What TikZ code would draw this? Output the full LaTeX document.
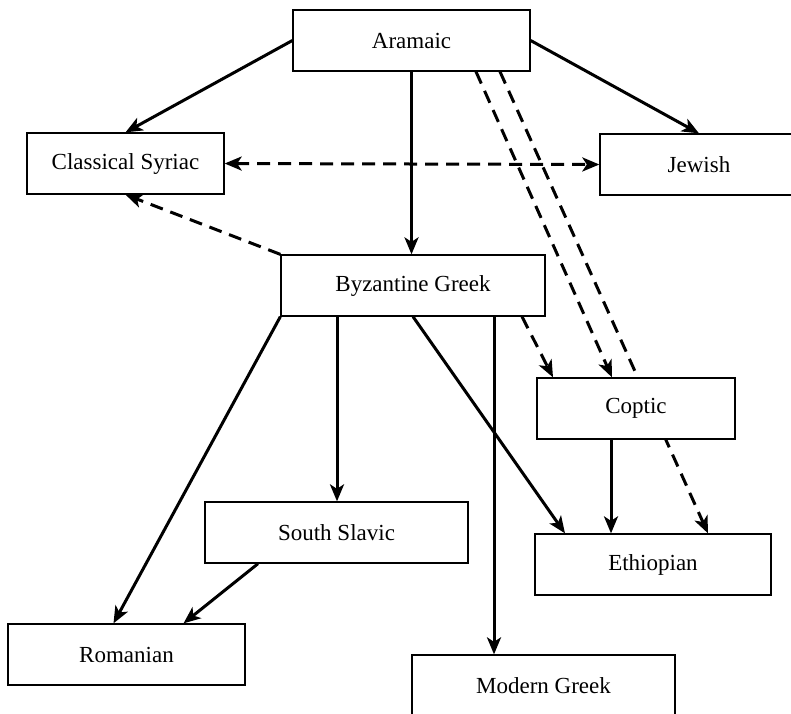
\documentclass[tikz,border=0pt]{standalone}
\usepackage{fontspec}
\setmainfont{Liberation Serif}
\usetikzlibrary{arrows.meta}
\pgfdeclarelayer{bg}
\pgfsetlayers{bg,main}
\begin{document}
\begin{tikzpicture}[x=1pt,y=-1pt,
  box/.style={draw, line width=1.3pt, rectangle, inner sep=0pt, minimum height=61pt,
    font=\fontsize{23}{27}\selectfont, fill=white},
  tip/.style={-{Stealth[length=17pt,width=14pt,inset=4.5pt]}},
  arr/.style={line width=3pt, tip},
  darr/.style={arr, dash pattern=on 13pt off 8pt},
  ddarr/.style={line width=3pt, dash pattern=on 13pt off 8pt,
    {Stealth[length=17pt,width=14pt,inset=4.5pt]}-{Stealth[length=17pt,width=14pt,inset=4.5pt]}}]
\useasboundingbox (0,0) rectangle (791,713);
\clip (0,0) rectangle (791,713);
\node[box, minimum width=237pt] (aram) at (411.5,40.5) {Aramaic};
\node[box, minimum width=197pt] (syr) at (125.5,163.5) {Classical Syriac};
\node[box, minimum width=198pt] (jew) at (699,164.5) {Jewish};
\node[box, minimum width=264pt] (byz) at (413,285.5) {Byzantine Greek};
\node[box, minimum width=198pt] (cop) at (636,408.5) {Coptic};
\node[box, minimum width=263pt] (ss) at (336.5,532.5) {South Slavic};
\node[box, minimum width=236pt] (eth) at (653,564.5) {Ethiopian};
\node[box, minimum width=237pt] (rom) at (126.5,654.5) {Romanian};
\node[box, minimum width=263pt] (mg) at (543.5,685.5) {Modern Greek};

\begin{pgfonlayer}{bg}
\draw[arr] (aram.west) -- (syr.north);
\draw[arr] (aram.east) -- (jew.north);
\draw[arr] (aram.south) -- (aram.south |- byz.north);
\draw[ddarr] (syr.east) -- (jew.west);
\draw[darr] (byz.north west) -- (syr.south);
\draw[darr] ([xshift=64.5pt]aram.south) -- ([xshift=-24pt]cop.north);
\draw[darr] ([xshift=88.5pt]aram.south) -- ([xshift=55pt]eth.north);
\draw[darr] ([xshift=109pt]byz.south) -- ([xshift=-83pt]cop.north);
\draw[arr] ([xshift=-25pt]cop.south) -- ([xshift=-25pt]cop.south |- eth.north);
\draw[arr] (byz.south) -- ([xshift=-88pt]eth.north);
\draw[arr] ([xshift=81pt]byz.south) -- ([xshift=81pt]byz.south |- mg.north);
\draw[arr] ([xshift=-76pt]byz.south) -- ([xshift=-76pt]byz.south |- ss.north);
\draw[arr] (byz.south west) -- ([xshift=-13pt]rom.north);
\draw[arr] ([xshift=-78.5pt]ss.south) -- ([xshift=57pt]rom.north);
\end{pgfonlayer}
\end{tikzpicture}
\end{document}
